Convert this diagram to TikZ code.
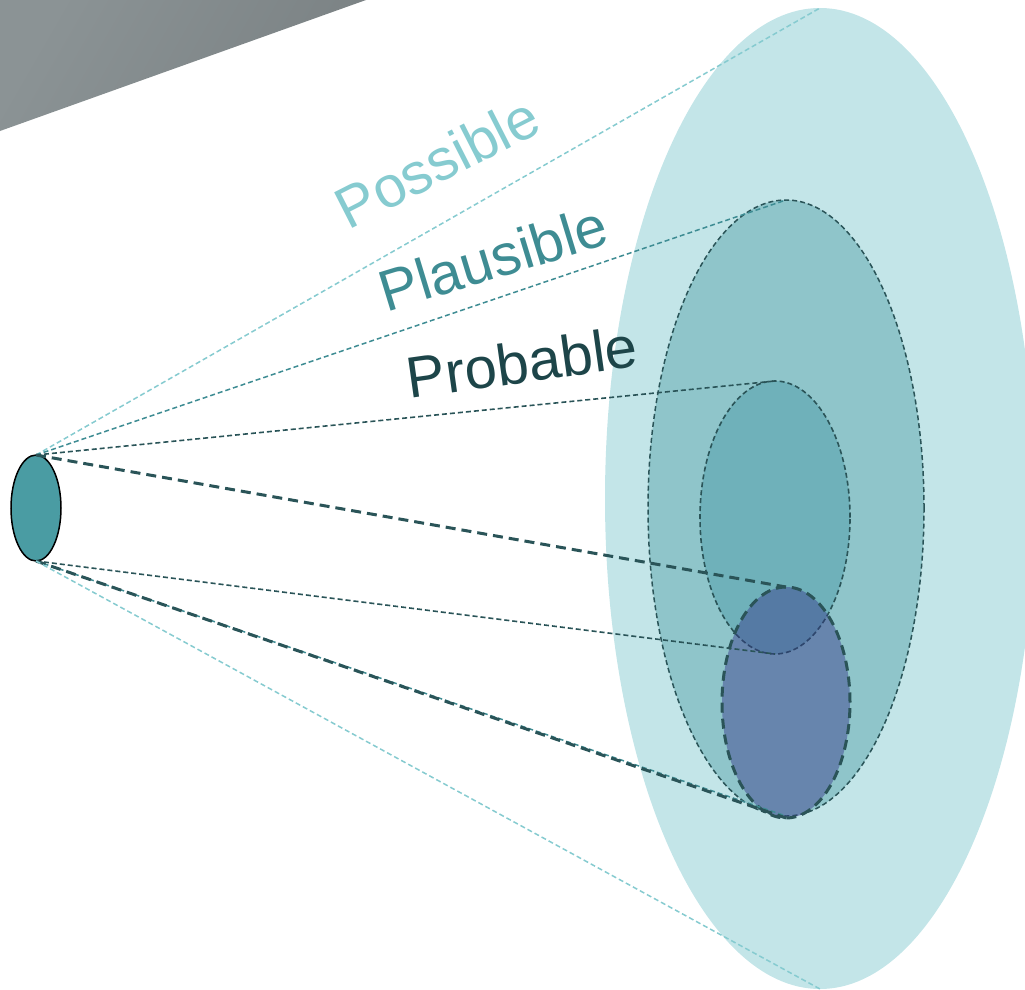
\documentclass[tikz,border=0pt]{standalone}
\usepackage{fontspec}
\setmainfont{Liberation Sans}
\usetikzlibrary{shapes.geometric}
\definecolor{outerfill}{HTML}{C3E5E8}
\definecolor{plausfill}{HTML}{8FC5CA}
\definecolor{probfill}{HTML}{6FB1BA}
\definecolor{bluefill}{HTML}{343588}
\definecolor{srcfill}{HTML}{4A9CA3}
\definecolor{possc}{HTML}{86CBD0}
\definecolor{plausc}{HTML}{3E8C93}
\definecolor{probc}{HTML}{1D4549}
\definecolor{darkline}{HTML}{2A5458}
\definecolor{greyA}{HTML}{8B9395}
\definecolor{greyB}{HTML}{7B8284}
\begin{document}
\begin{tikzpicture}[x=1pt,y=-1pt,
  oval/.style={ellipse, inner sep=0pt, outer sep=0pt},
  thinlight/.style={draw=possc, line width=1.5pt, dash pattern=on 5pt off 3pt},
  thinteal/.style={draw=plausc, line width=1.5pt, dash pattern=on 5pt off 3pt},
  thindark/.style={draw=darkline, line width=1.6pt, dash pattern=on 5pt off 3pt},
  thickdark/.style={draw=darkline, line width=3pt, dash pattern=on 10pt off 6pt},
  lbl/.style={font=\fontsize{58}{60}\selectfont, inner sep=0pt}]
\useasboundingbox (0,0) rectangle (1025,990);
\begin{scope}
\clip (0,0) rectangle (1025,990);
\shade[left color=greyA, right color=greyB, shading angle=60] (0,0) -- (366,0) -- (0,131) -- cycle;
\node[oval, fill=outerfill, minimum width=430pt, minimum height=981pt] (outer) at (820,498.5) {};
\node[oval, fill=plausfill, draw=darkline, line width=1.5pt, dash pattern=on 5pt off 3pt, minimum width=276pt, minimum height=616pt] (plaus) at (786,508) {};
\node[oval, fill=probfill, draw=darkline, line width=1.6pt, dash pattern=on 5pt off 3pt, minimum width=150pt, minimum height=273pt] (prob) at (775,517.5) {};
\node[oval, fill=bluefill, fill opacity=0.44, draw=darkline, draw opacity=1, line width=3pt, dash pattern=on 10pt off 6pt, minimum width=128pt, minimum height=231pt] (blue) at (786,702.5) {};
\node[oval, fill=srcfill, draw=black, line width=1.5pt, minimum width=50pt, minimum height=106pt] (src) at (36,508) {};
\draw[thinlight] (src.north) -- (outer.north);
\draw[thinteal] (src.north) -- (plaus.north);
\draw[thindark] (src.north) -- (prob.north);
\draw[thickdark] (src.north) -- (blue.north);
\draw[thindark] (src.south) -- (prob.south);
\draw[thinteal] (src.south) -- (plaus.south);
\draw[thickdark] (src.south) -- (blue.south);
\draw[thinlight] (src.south) -- (outer.south);
\node[lbl, text=possc, rotate=27] (tposs) at (437,162) {Possible};
\node[lbl, text=plausc, rotate=17] (tplaus) at (493,258) {Plausible};
\node[lbl, text=probc, rotate=8] (tprob) at (522,362) {Probable};
\end{scope}
\end{tikzpicture}
\end{document}
